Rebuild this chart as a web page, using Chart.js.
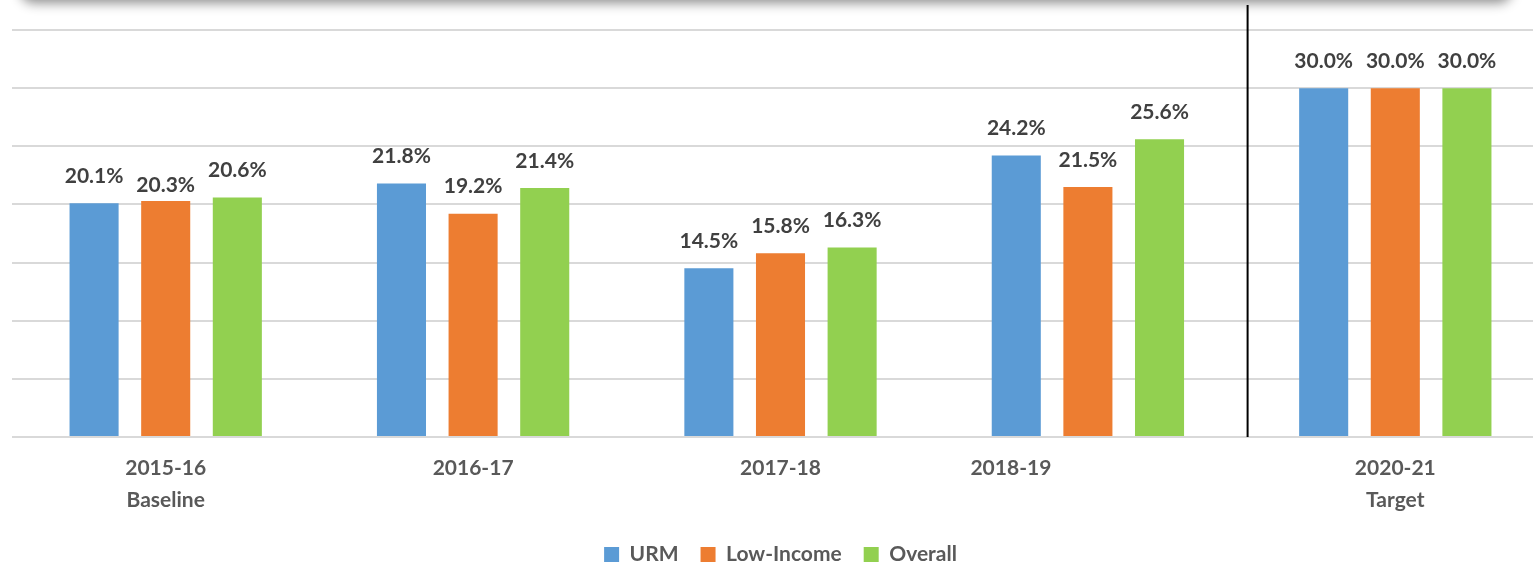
<!DOCTYPE html>
<html>
<head>
<meta charset="utf-8">
<script src="https://cdn.jsdelivr.net/npm/chart.js@4.4.0/dist/chart.umd.min.js"></script>
<style>
  html, body { margin: 0; padding: 0; background: #fff; overflow: hidden; }
  #wrap { position: relative; width: 1533px; height: 569px; overflow: hidden; }
  #box { position: absolute; left: 20px; top: -62px; width: 1492px; height: 60px; background: #fff;
         border-radius: 14px; box-shadow: 0 5px 12px rgba(0,0,0,0.45); z-index: 2; }
  #cv { position: absolute; left: 0; top: 0; width: 1550px; height: 569px; }
</style>
</head>
<body>
<div id="wrap">
  <div id="box"></div>
  <div id="cv"><canvas id="c"></canvas></div>
</div>
<script>
const categories = [['2015-16', 'Baseline'], '2016-17', '2017-18', '2018-19', ['2020-21', 'Target']];
const urm = [20.1, 21.8, 14.5, 24.2, 30.0];
const lowIncome = [20.3, 19.2, 15.8, 21.5, 30.0];
const overall = [20.6, 21.4, 16.3, 25.6, 30.0];
const seriesNames = ['URM', 'Low-Income', 'Overall'];
const yTicks = [0, 5, 10, 15, 20, 25, 30, 35];

const FONT = 'Lato, "Open Sans", sans-serif';

const extras = {
  id: 'extras',
  afterDatasetsDraw(chart) {
    const ctx = chart.ctx;
    ctx.save();
    ctx.font = 'bold 21px ' + FONT;
    ctx.fillStyle = '#404040';
    ctx.textAlign = 'center';
    ctx.textBaseline = 'middle';
    chart.data.datasets.forEach((ds, di) => {
      const meta = chart.getDatasetMeta(di);
      meta.data.forEach((el, i) => {
        let dy = -27;
        if (di === 1 && i === 0) dy = -16;
        ctx.fillText(ds.data[i].toFixed(1) + '%', el.x, el.y + dy);
      });
    });
    ctx.restore();
  },
  afterDraw(chart) {
    const ctx = chart.ctx;
    const xs = chart.scales.x;
    const area = chart.chartArea;
    const xLine = (xs.getPixelForValue(3) + xs.getPixelForValue(4)) / 2 + 6;
    ctx.save();
    ctx.strokeStyle = '#000';
    ctx.lineWidth = 2;
    ctx.beginPath();
    ctx.moveTo(xLine, 5);
    ctx.lineTo(xLine, area.bottom);
    ctx.stroke();
    const items = xs.getLabelItems ? xs.getLabelItems() : null;
    let y = xs.top + 22;
    let base = 'middle';
    if (items && items[2]) {
      y = items[2].options.translation[1] + (items[2].textOffset || 0);
      base = items[2].options.textBaseline || 'middle';
    }
    ctx.font = 'bold 21px ' + FONT;
    ctx.fillStyle = '#595959';
    ctx.textAlign = 'center';
    ctx.textBaseline = base;
    ctx.fillText(categories[3], xs.getPixelForValue(3) - 77, y);
    ctx.restore();
  }
};

new Chart(document.getElementById('c'), {
  type: 'bar',
  data: {
    labels: categories,
    datasets: [
      { label: seriesNames[0], data: urm, backgroundColor: '#5B9BD5' },
      { label: seriesNames[1], data: lowIncome, backgroundColor: '#ED7D31' },
      { label: seriesNames[2], data: overall, backgroundColor: '#92D050' }
    ]
  },
  options: {
    responsive: true,
    maintainAspectRatio: false,
    animation: false,
    layout: { padding: { left: 12, right: 1, top: 30, bottom: -6 } },
    datasets: { bar: { categoryPercentage: 0.699, barPercentage: 0.685 } },
    plugins: {
      tooltip: { enabled: false },
      legend: {
        position: 'bottom',
        labels: {
          font: { family: FONT, size: 21, weight: 'bold' },
          color: '#595959',
          boxWidth: 15,
          boxHeight: 15,
          padding: 22
        }
      }
    },
    scales: {
      x: {
        grid: { display: false },
        border: { display: false },
        afterFit: (s) => { s.height -= 2; },
        ticks: {
          font: { family: FONT, size: 21, weight: 'bold', lineHeight: 1.55 },
          color: (c) => c.index === 3 ? 'rgba(0,0,0,0)' : '#595959',
          padding: 7,
          maxRotation: 0,
          autoSkip: false
        }
      },
      y: {
        min: 0,
        max: 35,
        afterBuildTicks: (s) => { s.ticks = yTicks.map(v => ({ value: v })); },
        grid: { color: '#d9d9d9', lineWidth: 2, drawTicks: false },
        border: { display: false },
        ticks: { display: false }
      }
    }
  },
  plugins: [extras]
});
</script>
</body>
</html>
